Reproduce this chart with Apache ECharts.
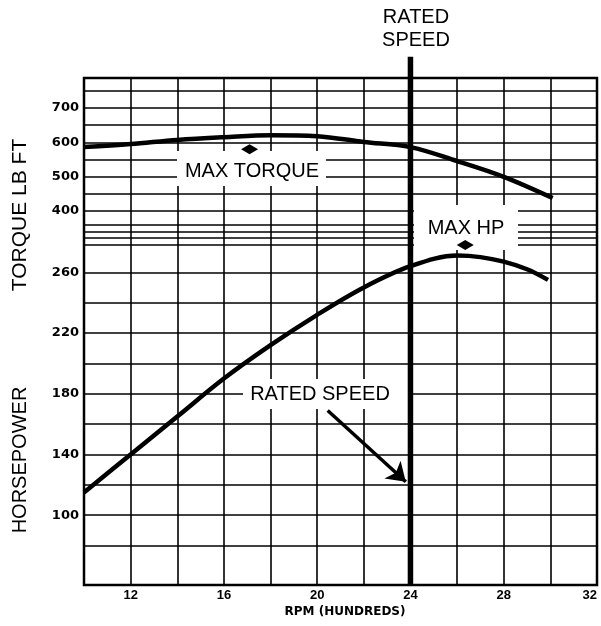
<!DOCTYPE html>
<html>
<head>
<meta charset="utf-8">
<script src="https://cdn.jsdelivr.net/npm/echarts@6/dist/echarts.min.js"></script>
<style>
  html, body { margin: 0; padding: 0; background: #fff; }
  #chart { width: 601px; height: 626px; }
</style>
</head>
<body>
<div id="chart"></div>
<script>
// Engine performance: torque and horsepower against engine speed (RPM in hundreds)
const rpmTorque = [10, 12, 14, 16, 18, 20, 22, 24, 26, 28, 30.1];
const torqueValues = [586, 595, 607, 615, 621, 618, 601, 586, 545, 499, 437];

const rpmHp = [10, 12, 14, 16, 18, 20, 22, 24, 26, 27, 28, 29, 29.9];
const hpValues = [115, 140, 165, 190, 212, 232, 250, 264, 271, 270, 267, 262, 255];

const ratedSpeed = 24;
const maxTorquePoint = [17.1, 580];
const maxHpPoint = [26.35, 278];
const ratedArrow = [[20.45, 169], [23.8, 122]];

const xTickLabels = [12, 16, 20, 24, 28, 32];
const torqueTickLabels = [400, 500, 600, 700];
const hpTickLabels = [100, 140, 180, 220, 260];

const torqueGridLines = [300, 320, 340, 360, 400, 450, 500, 550, 600, 650, 700, 750];
const hpGridLines = [80, 100, 120, 140, 160, 180, 200, 220, 240, 260];

const rpmRange = [10, 32];
const hpRange = [54, 388];
const torqueRange = [-694, 788];
const ratedLineSpan = [54, 402];

const INK = '#000';
const tickFont = { color: INK, fontFamily: 'DejaVu Sans', fontWeight: 'bold', fontSize: 13 };

const chart = echarts.init(document.getElementById('chart'), null, { renderer: 'canvas' });

function hLines(values) {
  return {
    silent: true,
    symbol: 'none',
    animation: false,
    label: { show: false },
    lineStyle: { color: INK, width: 1.6, type: 'solid', opacity: 1 },
    emphasis: { disabled: true },
    data: values.map(v => ({ yAxis: v }))
  };
}

const option = {
  animation: false,
  backgroundColor: '#fff',
  grid: {
    left: 84, right: 4, top: 78, bottom: 41,
    outerBoundsMode: 'none', containLabel: false,
    show: true, borderColor: INK, borderWidth: 2.5, backgroundColor: '#fff'
  },
  xAxis: {
    type: 'value',
    min: rpmRange[0], max: rpmRange[1], interval: 2,
    axisLine: { show: false },
    axisTick: { show: false },
    axisLabel: {
      color: INK, fontFamily: 'Liberation Sans', fontWeight: 'bold', fontSize: 13, margin: 4,
      alignMaxLabel: 'right',
      formatter: v => (xTickLabels.includes(v) ? String(v) : '')
    },
    splitLine: { show: true, lineStyle: { color: INK, width: 1.6 } }
  },
  yAxis: [
    {
      type: 'value', position: 'left',
      min: hpRange[0], max: hpRange[1],
      axisLine: { show: false }, axisTick: { show: false },
      splitLine: { show: false },
      axisLabel: Object.assign({ customValues: hpTickLabels, margin: 5 }, tickFont)
    },
    {
      type: 'value', position: 'left',
      min: torqueRange[0], max: torqueRange[1],
      axisLine: { show: false }, axisTick: { show: false },
      splitLine: { show: false },
      axisLabel: Object.assign({ customValues: torqueTickLabels, margin: 5 }, tickFont)
    }
  ],
  series: [
    {
      name: 'hp grid', type: 'line', yAxisIndex: 0, data: [], z: 1,
      markLine: hLines(hpGridLines)
    },
    {
      name: 'torque grid', type: 'line', yAxisIndex: 1, data: [], z: 1,
      markLine: hLines(torqueGridLines)
    },
    {
      name: 'Torque', type: 'line', yAxisIndex: 1, z: 5,
      data: rpmTorque.map((r, i) => [r, torqueValues[i]]),
      smooth: 0.35, showSymbol: false,
      lineStyle: { color: INK, width: 4.5 }
    },
    {
      name: 'Horsepower', type: 'line', yAxisIndex: 0, z: 150,
      data: rpmHp.map((r, i) => [r, hpValues[i]]),
      smooth: 0.35, showSymbol: false,
      lineStyle: { color: INK, width: 4.5 },
      markLine: {
        silent: true, animation: false,
        symbol: ['none', 'arrow'], symbolSize: 18,
        label: { show: false },
        lineStyle: { color: INK, width: 3.5, type: 'solid' },
        data: [[{ coord: ratedArrow[0] }, { coord: ratedArrow[1] }]]
      }
    },
    {
      name: 'Rated speed', type: 'line', yAxisIndex: 0, z: 160, clip: false,
      data: ratedLineSpan.map(v => [ratedSpeed, v]),
      showSymbol: false,
      lineStyle: { color: INK, width: 5.5 }
    },
    {
      name: 'HP peak', type: 'scatter', yAxisIndex: 0, z: 300,
      symbol: 'diamond', symbolSize: [17, 10],
      itemStyle: { color: INK, opacity: 1 },
      data: [maxHpPoint]
    },
    {
      name: 'Torque peak', type: 'scatter', yAxisIndex: 1, z: 300,
      symbol: 'diamond', symbolSize: [17, 10],
      itemStyle: { color: INK, opacity: 1 },
      data: [maxTorquePoint]
    }
  ],
  graphic: [
    // white label panels that break the grid behind the callouts
    { type: 'rect', z: 100, shape: { x: 177, y: 151, width: 149, height: 35 }, style: { fill: '#fff' } },
    { type: 'rect', z: 100, shape: { x: 414, y: 205, width: 104, height: 45 }, style: { fill: '#fff' } },
    { type: 'rect', z: 100, shape: { x: 243, y: 379, width: 168, height: 30 }, style: { fill: '#fff' } },
    {
      type: 'text', z: 101, x: 252, y: 171,
      style: { text: 'MAX TORQUE', fill: INK, font: '20px "Liberation Sans"', align: 'center', verticalAlign: 'middle' }
    },
    {
      type: 'text', z: 101, x: 466, y: 228,
      style: { text: 'MAX HP', fill: INK, font: '20px "Liberation Sans"', align: 'center', verticalAlign: 'middle' }
    },
    {
      type: 'text', z: 101, x: 320, y: 394,
      style: { text: 'RATED SPEED', fill: INK, font: '20px "Liberation Sans"', align: 'center', verticalAlign: 'middle' }
    },
    {
      type: 'text', z: 101, x: 416, y: 29,
      style: { text: 'RATED\nSPEED', fill: INK, font: '20px "Liberation Sans"', lineHeight: 23, align: 'center', verticalAlign: 'middle' }
    },
    {
      type: 'text', z: 101, x: 20, y: 215, rotation: Math.PI / 2,
      style: { text: 'TORQUE LB FT', fill: INK, font: '21px "Liberation Sans"', align: 'center', verticalAlign: 'middle' }
    },
    {
      type: 'text', z: 101, x: 20, y: 460, rotation: Math.PI / 2,
      style: { text: 'HORSEPOWER', fill: INK, font: '20px "Liberation Sans"', align: 'center', verticalAlign: 'middle' }
    },
    {
      type: 'text', z: 101, x: 345, y: 612,
      style: { text: 'RPM (HUNDREDS)', fill: INK, font: 'bold 12px "DejaVu Sans"', align: 'center', verticalAlign: 'middle' }
    }
  ]
};

chart.setOption(option);
</script>
</body>
</html>
